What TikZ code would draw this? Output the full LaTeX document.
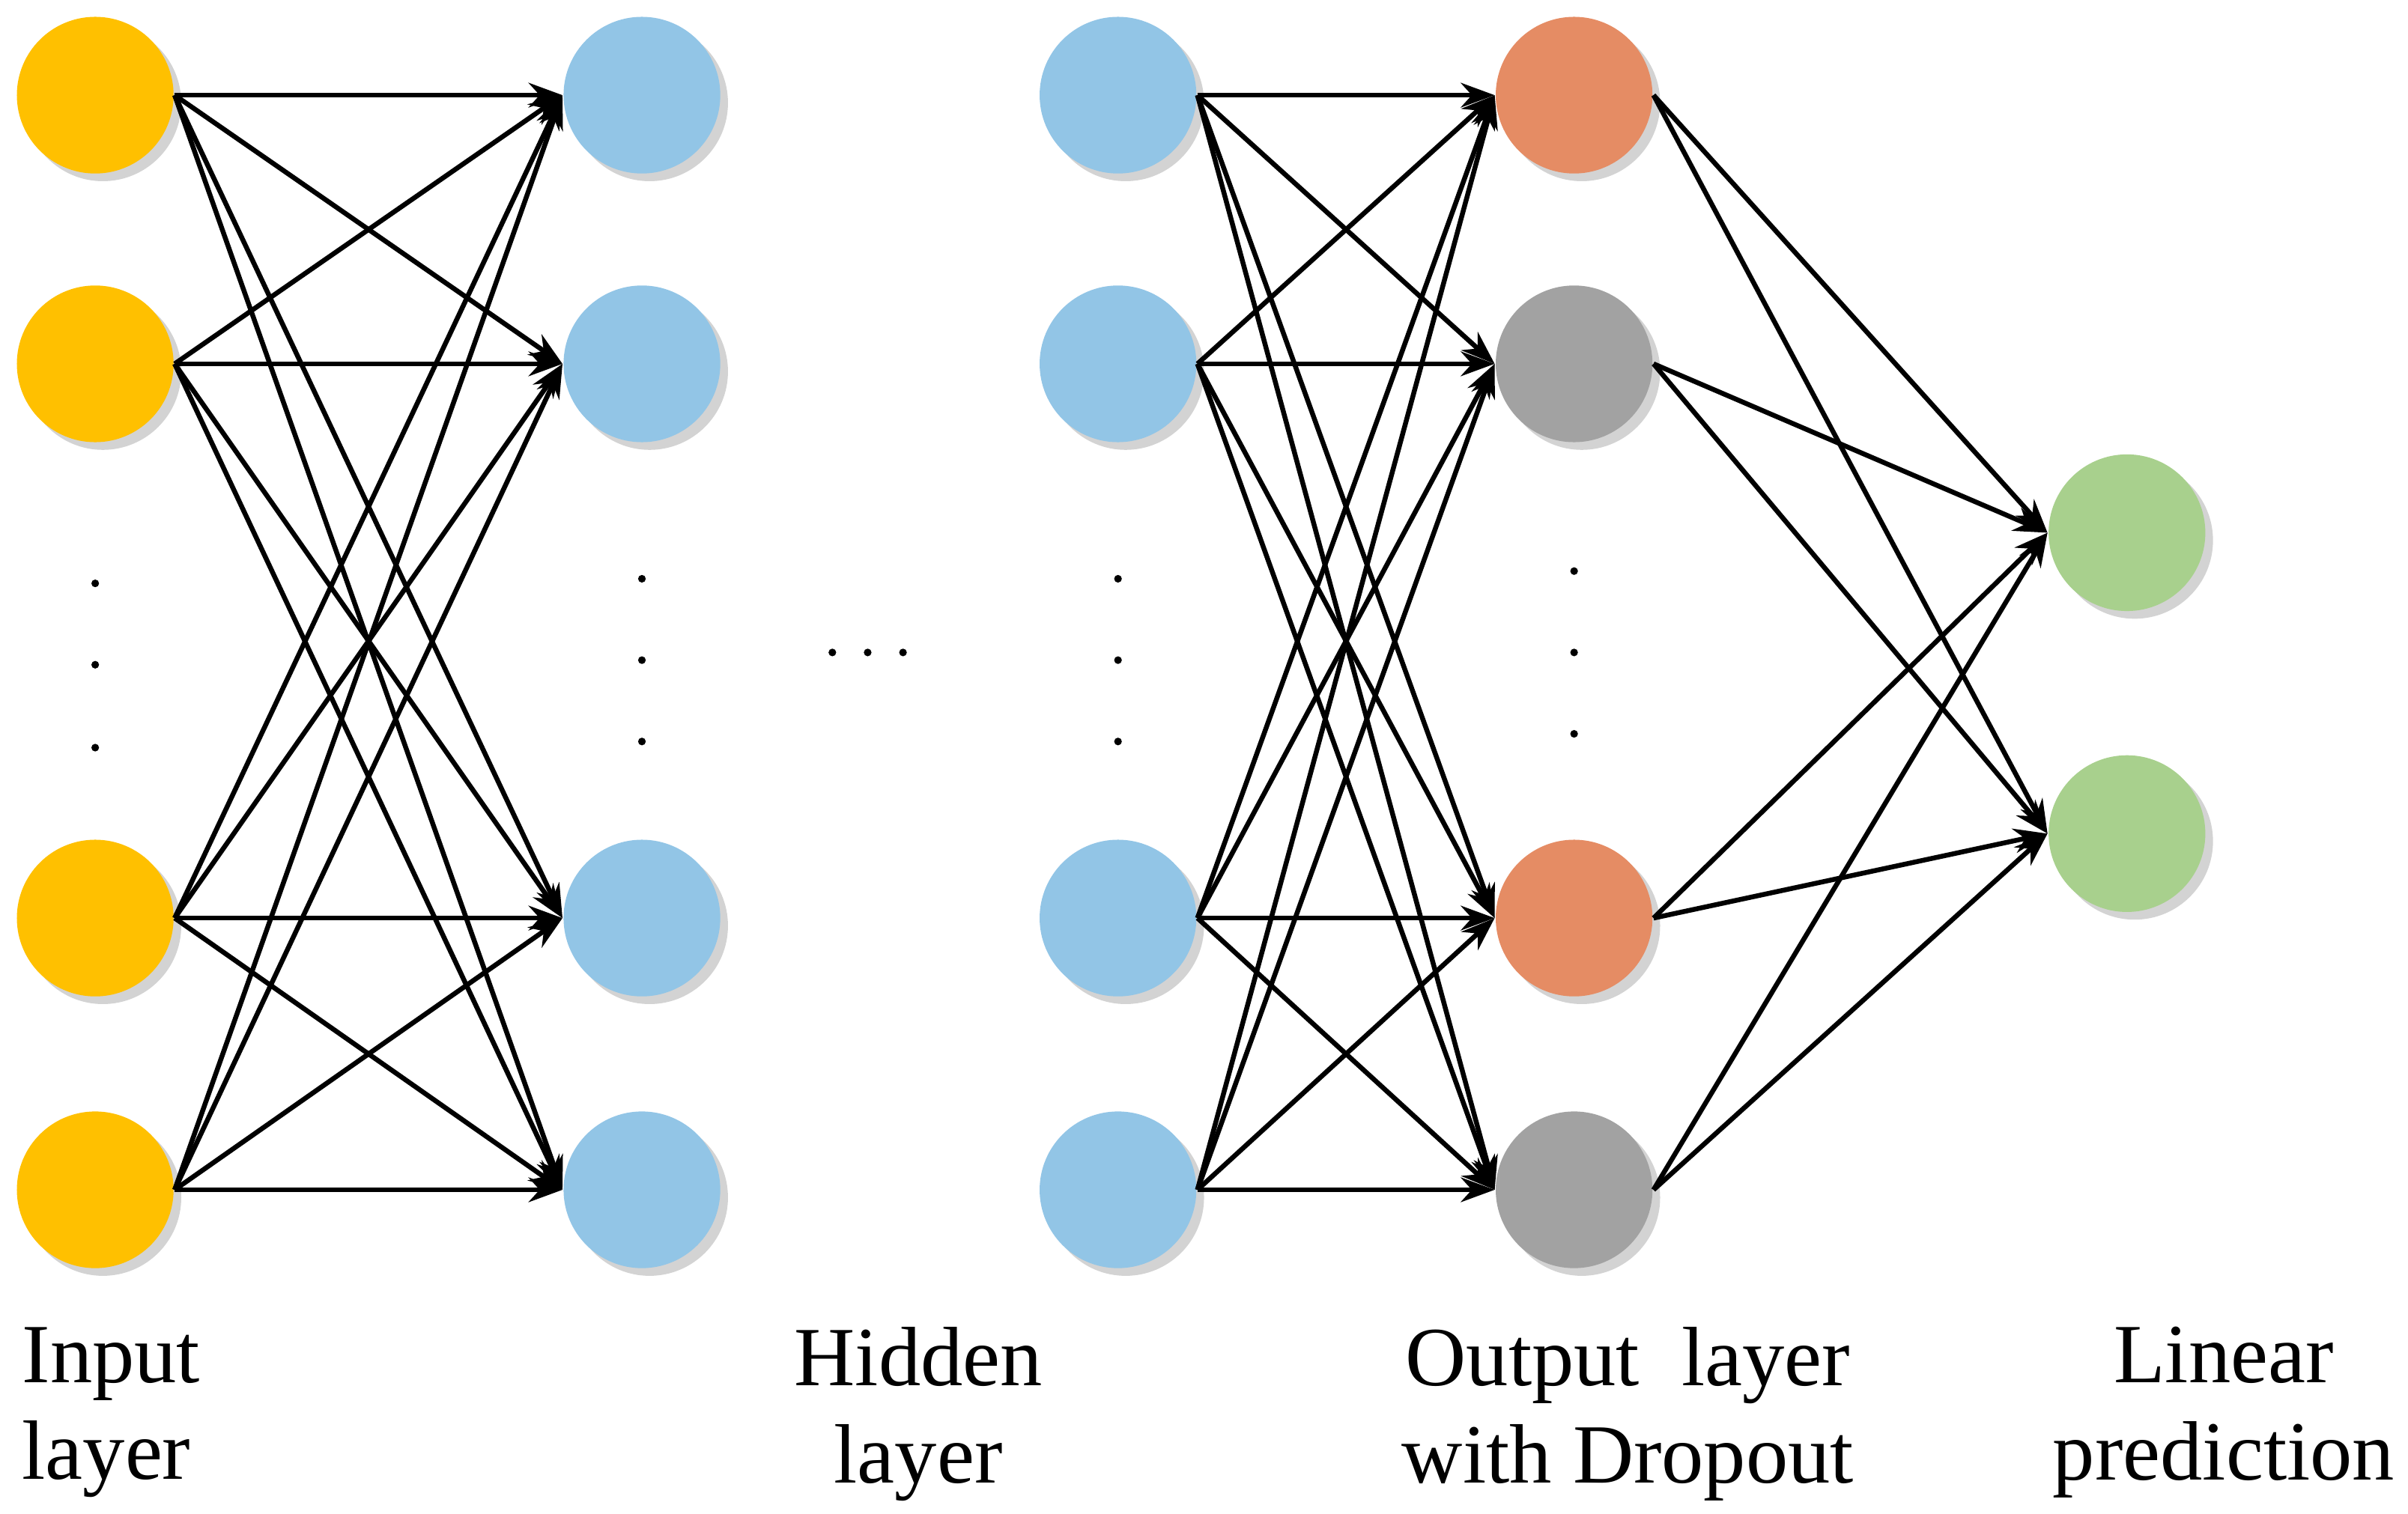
\documentclass[tikz,border=0pt]{standalone}
\usepackage{fontspec}
\setmainfont{Liberation Serif}
\usetikzlibrary{shadows,arrows.meta}
\definecolor{cin}{HTML}{FFC000}
\definecolor{chid}{HTML}{92C5E6}
\definecolor{cor}{HTML}{E58C64}
\definecolor{cgr}{HTML}{A2A2A2}
\definecolor{cgn}{HTML}{A8D08D}
\begin{document}
\begin{tikzpicture}[x=0.01cm,y=-0.01cm,
  neu/.style={circle,minimum size=1.02cm,inner sep=0,draw=none,drop shadow={shadow xshift=0.05cm,shadow yshift=-0.05cm,opacity=0.35,fill=gray}},
  con/.style={-{Stealth[length=0.22cm,width=0.16cm]},line width=0.9pt},
  lab/.style={font=\fontsize{15.6pt}{18pt}\selectfont,align=center},
  dot/.style={circle,fill=black,inner sep=0,minimum size=0.05cm}]
\useasboundingbox (0,0) rectangle (1568,986);
\foreach \i/\y in {1/62,2/237,3/598,4/775}{
  \node[neu,fill=cin] (a\i) at (62,\y) {};
  \node[neu,fill=chid] (b\i) at (418,\y) {};
  \node[neu,fill=chid] (c\i) at (728,\y) {};
}
\node[neu,fill=cor] (d1) at (1025,62) {};
\node[neu,fill=cgr] (d2) at (1025,237) {};
\node[neu,fill=cor] (d3) at (1025,598) {};
\node[neu,fill=cgr] (d4) at (1025,775) {};
\node[neu,fill=cgn] (e1) at (1385,347) {};
\node[neu,fill=cgn] (e2) at (1385,543) {};
\foreach \i in {1,...,4}{\foreach \j in {1,...,4}{
  \draw[con] (a\i.east) -- (b\j.west);
  \draw[con] (c\i.east) -- (d\j.west);}
  \foreach \j in {1,2}{\draw[con] (d\i.east) -- (e\j.west);}}
\foreach \k/\y in {1/380,2/433,3/487}{\node[dot] (pa\k) at (62,\y) {};}
\foreach \k/\y in {1/377,2/430,3/483}{\node[dot] (pb\k) at (418,\y) {}; \node[dot] (pc\k) at (728,\y) {};}
\foreach \k/\y in {1/372,2/425,3/478}{\node[dot] (pd\k) at (1025,\y) {};}
\foreach \k/\x in {1/542,2/565,3/588}{\node[dot] (pm\k) at (\x,425) {};}
\node[lab,align=left,anchor=north west] (l1) at (2,852) {Input\\layer};
\node[lab,anchor=north] (l2) at (598,852) {Hidden\\layer};
\node[lab,anchor=north] (l3) at (1060,852) {Output~~layer\\with Dropout};
\node[lab,anchor=north] (l4) at (1448,852) {Linear\\prediction};
\end{tikzpicture}
\end{document}
